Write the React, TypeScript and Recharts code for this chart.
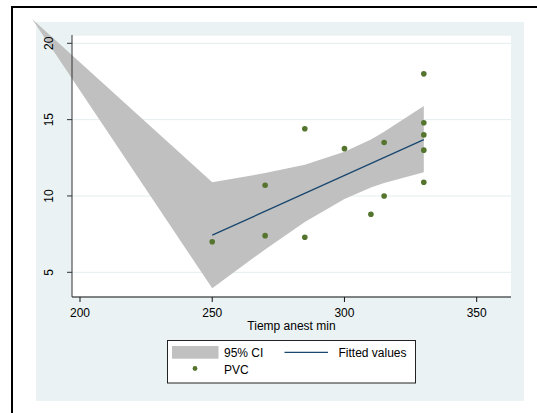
import React from 'react';
import { ComposedChart, Area, Line, Scatter, XAxis, YAxis, CartesianGrid, Legend } from 'recharts';

// PVC vs anaesthesia time, with linear fit and 95% CI band (Stata style)
const pvcX = [250, 270, 270, 285, 285, 300, 310, 315, 315, 330, 330, 330, 330, 330];
const pvcY = [7.0, 10.7, 7.4, 14.4, 7.3, 13.1, 8.8, 13.5, 10.0, 18.0, 14.8, 14.0, 13.0, 10.9];

const fitX = [250, 330];
const fitY = [7.43, 13.69];

const bandX = [181.9, 250, 270, 285, 300, 310, 315, 330];
const bandLow = [21.6, 3.95, 6.5, 8.3, 9.8, 10.55, 10.85, 11.55];
const bandHigh = [21.6, 10.9, 11.5, 12.05, 12.9, 13.7, 14.2, 15.9];

const xTicks = [200, 250, 300, 350];
const yTicks = [5, 10, 15, 20];
const xTitle = 'Tiemp anest min';
const legendLabels = ['95% CI', 'Fitted values', 'PVC'];

const FONT = '"Liberation Sans", Arial, sans-serif';
const NAVY = '#1A476F';
const GREEN = '#55752F';
const BAND = '#C0C0C0';

const pvcData = pvcX.map((x, i) => ({ x, pvc: pvcY[i] }));
const fitData = fitX.map((x, i) => ({ x, fit: fitY[i] }));
const bandData = bandX.map((x, i) => ({ x, band: [bandLow[i], bandHigh[i]] }));

const XTick = ({ x, y, payload }: any) => (
  <text x={x} y={y + 15.3} textAnchor="middle" fontSize={12} fontFamily={FONT} fill="#000">
    {payload.value}
  </text>
);

const YTick = ({ x, y, payload }: any) => (
  <text
    x={x - 14}
    y={y}
    transform={`rotate(-90, ${x - 14}, ${y})`}
    textAnchor="middle"
    fontSize={12}
    fontFamily={FONT}
    fill="#000"
  >
    {payload.value}
  </text>
);

const XTitle = (props: any) => {
  const vb = props.viewBox || { x: 72, y: 297, width: 439 };
  return (
    <text x={vb.x + vb.width / 2} y={vb.y + 32.5} textAnchor="middle" fontSize={12} fontFamily={FONT} fill="#000">
      {xTitle}
    </text>
  );
};

const LegendBox = () => (
  <svg width={249} height={44} style={{ display: 'block' }}>
    <rect x={0.5} y={0.5} width={248} height={42.5} fill="#fff" stroke="#222" />
    <rect x={5} y={6} width={46.5} height={12.7} fill={BAND} />
    <text x={57} y={17} fontSize={12} fontFamily={FONT} fill="#000">{legendLabels[0]}</text>
    <line x1={117.5} x2={161} y1={12.3} y2={12.3} stroke={NAVY} strokeWidth={1.3} />
    <text x={171.5} y={17} fontSize={12} fontFamily={FONT} fill="#000">{legendLabels[1]}</text>
    <circle cx={28} cy={28.5} r={2.4} fill={GREEN} />
    <text x={57} y={34.3} fontSize={12} fontFamily={FONT} fill="#000">{legendLabels[2]}</text>
  </svg>
);

export default function App() {
  return (
    <div style={{ position: 'absolute', left: 0, top: 0, width: 537, height: 413, background: '#fff' }}>
      <style>{'.recharts-wrapper g[clip-path]{clip-path:none !important}'}</style>
      <div style={{ position: 'absolute', left: 11, top: 6, right: 0, bottom: 0, borderTop: '2px solid #000', borderLeft: '2px solid #000' }} />
      <div style={{ position: 'absolute', left: 36, top: 22, width: 488, height: 379, background: '#EAF2F3' }} />
      <div style={{ position: 'absolute', left: 0, top: 0 }}>
        <ComposedChart width={537} height={413} margin={{ top: 35, right: 26, left: 36, bottom: 76 }}>
          <CartesianGrid vertical={false} stroke="#E4EDEF" fill="#fff" />
          <XAxis
            dataKey="x"
            type="number"
            domain={[196.975, 362.97]}
            allowDataOverflow
            ticks={xTicks}
            tick={<XTick />}
            tickSize={5}
            tickMargin={0}
            height={40}
            stroke="#111"
            label={XTitle}
          />
          <YAxis
            type="number"
            domain={[3.382, 20.544]}
            allowDataOverflow
            ticks={yTicks}
            tick={<YTick />}
            tickSize={5}
            tickMargin={0}
            width={36}
            stroke="#333"
          />
          <Area
            data={bandData}
            dataKey="band"
            type="linear"
            stroke="none"
            fill={BAND}
            fillOpacity={1}
            isAnimationActive={false}
            dot={false}
            activeDot={false}
          />
          <Line
            data={fitData}
            dataKey="fit"
            type="linear"
            stroke={NAVY}
            strokeWidth={1.3}
            dot={false}
            activeDot={false}
            isAnimationActive={false}
          />
          <Scatter
            data={pvcData}
            dataKey="pvc"
            fill={GREEN}
            isAnimationActive={false}
            shape={(p: any) => <circle cx={p.cx} cy={p.cy} r={2.8} fill={GREEN} />}
          />
          <Legend
            layout="horizontal"
            verticalAlign="middle"
            align="center"
            content={() => <LegendBox />}
            wrapperStyle={{ left: 167, top: 340, width: 249, height: 44 }}
          />
        </ComposedChart>
      </div>
    </div>
  );
}
